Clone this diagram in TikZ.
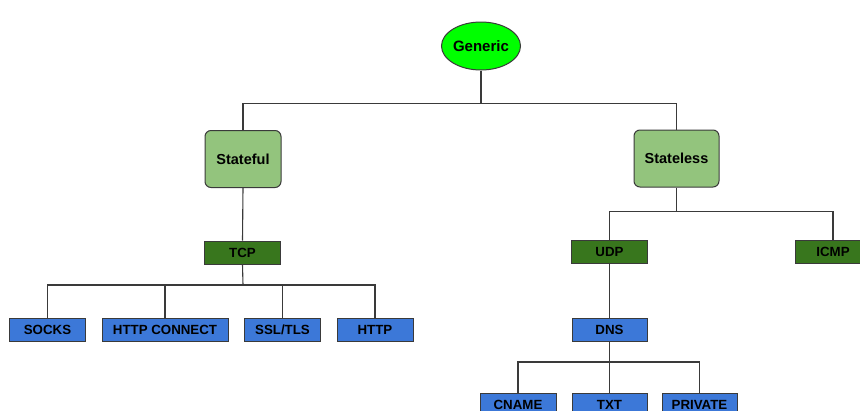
\documentclass[tikz,border=0pt]{standalone}
\usepackage{fontspec}
\setmainfont{Liberation Sans}
\usetikzlibrary{shapes.geometric}
\definecolor{rootgreen}{HTML}{00FF00}
\definecolor{lightgreen}{HTML}{93C47D}
\definecolor{darkgreen}{HTML}{38761D}
\definecolor{boxblue}{HTML}{3C78D8}
\definecolor{edgegray}{HTML}{3A3A3A}
\begin{document}
\begin{tikzpicture}[x=1pt,y=-1pt,
  base/.style={draw=edgegray,line width=1pt,text=black,font=\bfseries,inner sep=0pt},
  rootnode/.style={base,ellipse,fill=rootgreen,minimum width=76pt,minimum height=48pt,font=\bfseries\fontsize{15}{17}\selectfont},
  groupnode/.style={base,rounded corners=6pt,fill=lightgreen,minimum height=57pt,font=\bfseries\fontsize{14.5}{17}\selectfont},
  protonode/.style={base,fill=darkgreen,minimum width=76pt,minimum height=23pt,font=\bfseries\fontsize{13.3}{15}\selectfont},
  leafnode/.style={base,fill=boxblue,minimum width=76pt,minimum height=23pt,font=\bfseries\fontsize{13.3}{15}\selectfont},
  link/.style={draw=edgegray,line width=1.1pt}]
\useasboundingbox (0,0) rectangle (860,410);
\begin{scope}
\clip (0,0) rectangle (860,410);

% tree nodes
\node[rootnode] (generic) at (481,46) {Generic};
\node[groupnode,minimum width=76pt] (stateful) at (243,159) {Stateful};
\node[groupnode,minimum width=85pt] (stateless) at (676.5,158.5) {Stateless};

\node[protonode] (tcp) at (242.5,252.5) {TCP};
\node[protonode] (udp) at (609.5,252) {UDP};
\node[protonode] (icmp) at (833,252) {ICMP};

\node[leafnode] (socks) at (47.5,329.5) {SOCKS};
\node[leafnode,minimum width=126pt] (httpc) at (165,329.5) {HTTP CONNECT};
\node[leafnode] (ssl) at (282.5,329.5) {SSL/TLS};
\node[leafnode] (http) at (375,329.5) {HTTP};

\node[leafnode,minimum width=75pt] (dns) at (609.5,329.5) {DNS};
\node[leafnode] (cname) at (518,404.5) {CNAME};
\node[leafnode,minimum width=75pt] (txt) at (609.5,404.5) {TXT};
\node[leafnode,minimum width=75pt] (private) at (699.5,404.5) {PRIVATE};

% branch levels
\coordinate (j0) at (481,103.5);
\coordinate (j1) at (243,285);
\coordinate (j2) at (676.5,211.5);
\coordinate (j3) at (609.5,362);

% connectors
\draw[link] (generic.south) -- (j0);
\draw[link] (stateful.north) |- (j0) -| (stateless.north);

\draw[link] (stateful.south) -- (tcp.north);
\draw[link] (tcp.south) -- (j1);
\draw[link] (socks.north) |- (j1) -| (http.north);
\draw[link] (httpc.north) -- (httpc.north |- j1);
\draw[link] (ssl.north) -- (ssl.north |- j1);

\draw[link] (stateless.south) -- (j2);
\draw[link] (udp.north) |- (j2) -| (icmp.north);

\draw[link] (udp.south) -- (dns.north);
\draw[link] (dns.south) -- (j3);
\draw[link] (cname.north) |- (j3) -| (private.north);
\draw[link] (txt.north) -- (j3);
\end{scope}
\end{tikzpicture}
\end{document}
